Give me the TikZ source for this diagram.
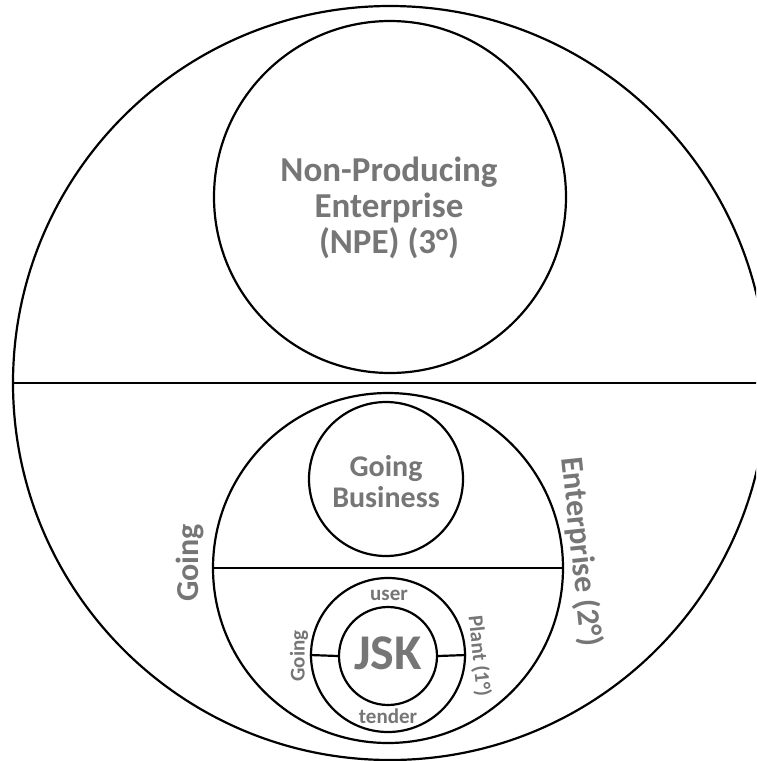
\documentclass[tikz,border=0pt]{standalone}
\usepackage{fontspec}
\setmainfont{Carlito}
\definecolor{txtgray}{RGB}{118,118,118}
\begin{document}
\begin{tikzpicture}[x=0.5pt,y=-0.5pt,
  ring/.style={circle,draw=black,line width=1.1pt,inner sep=0pt},
  lbl/.style={text=txtgray,font=\bfseries,inner sep=0pt,align=center},
  sep/.style={draw=black,line width=1.1pt}]
\useasboundingbox (0,0) rectangle (756,761);
\clip (0,0) rectangle (756,761);
\fill[white] (0,0) rectangle (756,761);
% circles
\node[ring,minimum size=377pt] (big) at (390,383) {};
\node[ring,minimum size=176pt] (npe) at (390,197) {};
\node[ring,minimum size=175pt] (mid) at (388,568) {};
\node[ring,minimum size=77pt] (gb) at (386,479) {};
\node[ring,minimum size=77pt] (ringc) at (388,655) {};
\node[ring,minimum size=49pt] (jsk) at (388,656) {};
% separators
\draw[sep] (big.west) -- (big.east);
\draw[sep] (mid.west) -- (mid.east);
\draw[sep] (ringc.west) -- (jsk.west);
\draw[sep] (jsk.east) -- (ringc.east);
% labels
\node[lbl,font=\bfseries\fontsize{17.5}{18}\selectfont] (npet) at (389,208) {Non-Producing\\Enterprise\\(NPE) (3°)};
\node[lbl,font=\bfseries\fontsize{15}{15.5}\selectfont] (gbt) at (386,482) {Going\\Business};
\node[lbl,font=\bfseries\fontsize{25}{27}\selectfont] (jskt) at (388,653) {JSK};
\node[lbl,font=\bfseries\fontsize{10.5}{12}\selectfont] (usert) at (389,595) {user};
\node[lbl,font=\bfseries\fontsize{10.5}{12}\selectfont] (tendert) at (388,716) {tender};
\node[lbl,font=\bfseries\fontsize{10.5}{12}\selectfont,rotate=90] (goings) at (299,656) {Going};
\node[lbl,font=\bfseries\fontsize{10.5}{12}\selectfont,rotate=-84] (plant) at (479,656) {Plant (1°)};
\node[lbl,font=\bfseries\fontsize{16}{18}\selectfont,rotate=90] (goingb) at (190,563) {Going};
\node[lbl,font=\bfseries\fontsize{16}{18}\selectfont,rotate=-84] (entp) at (581,552) {Enterprise (2°)};
\end{tikzpicture}
\end{document}
